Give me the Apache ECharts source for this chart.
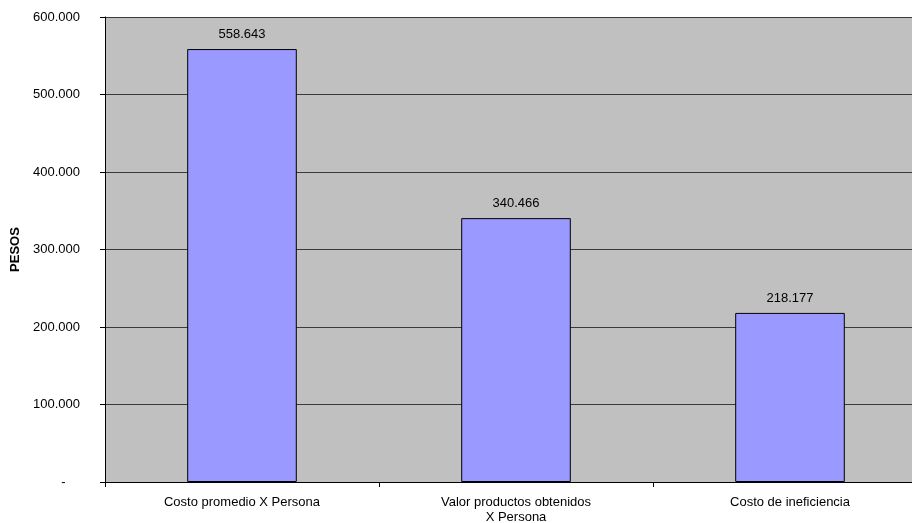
<!DOCTYPE html>
<html><head><meta charset="utf-8">
<script src="https://cdn.jsdelivr.net/npm/echarts@6/dist/echarts.min.js"></script>
<style>html,body{margin:0;padding:0;background:#fff}#c{width:912px;height:523px}</style>
</head><body><div id="c"></div>
<script>
const categories = ['Costo promedio X Persona', 'Valor productos obtenidos\nX Persona', 'Costo de ineficiencia'];
const values = [558643, 340466, 218177];
const yTicks = [0, 100000, 200000, 300000, 400000, 500000, 600000];

function fmt(v) {
  if (v === 0) return '-    ';
  return String(Math.round(v)).replace(/\B(?=(\d{3})+(?!\d))/g, '.');
}

const chart = echarts.init(document.getElementById('c'));
chart.setOption({
  animation: false,
  textStyle: { fontFamily: 'Liberation Sans, Arial, sans-serif' },
  grid: { left: 105, top: 17, bottom: 41, width: 822, outerBoundsMode: 'none', containLabel: false, show: true, backgroundColor: '#c0c0c0', borderWidth: 0 },
  xAxis: {
    type: 'category', data: categories,
    axisLine: { show: true, lineStyle: { color: '#000', width: 1 } },
    axisTick: { show: true, length: 5, lineStyle: { color: '#000' } },
    axisLabel: { color: '#000', fontSize: 13, margin: 13, lineHeight: 15 }
  },
  yAxis: {
    type: 'value', min: 0, max: 600000, interval: 100000,
    name: 'PESOS', nameLocation: 'middle', nameGap: 83, nameRotate: 90,
    nameTextStyle: { fontWeight: 'bold', fontSize: 13, color: '#000' },
    axisLine: { show: true, lineStyle: { color: '#000', width: 1 } },
    axisTick: { show: true, length: 5, lineStyle: { color: '#000' } },
    axisLabel: { color: '#000', fontSize: 13, margin: 25, formatter: fmt },
    splitLine: { show: true, lineStyle: { color: '#3a3a3a', width: 1 } }
  },
  series: [{
    type: 'bar', data: values, barWidth: '40%',
    itemStyle: { color: '#9999ff', borderColor: '#000', borderWidth: 1 },
    label: { show: true, position: 'top', color: '#000', fontSize: 13, distance: 8, formatter: p => fmt(p.value) }
  }]
});
</script></body></html>
